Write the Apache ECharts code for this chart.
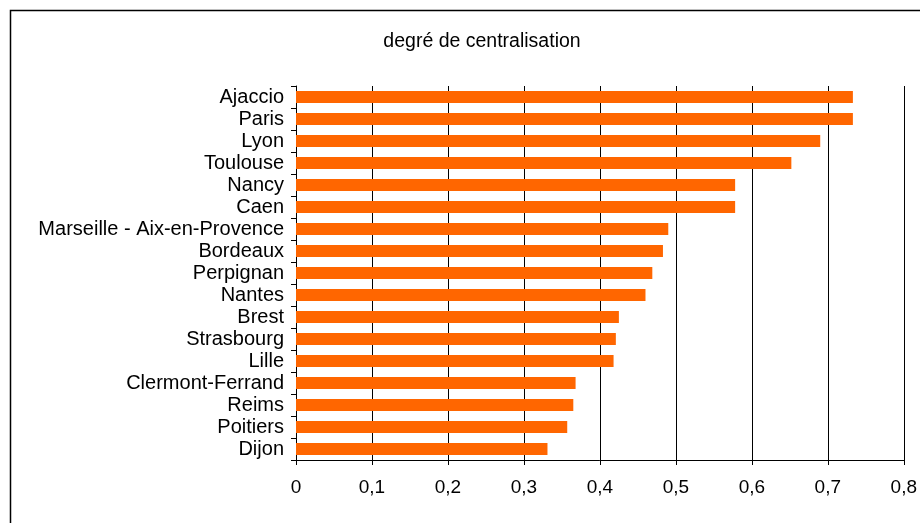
<!DOCTYPE html>
<html><head><meta charset="utf-8">
<script src="https://cdn.jsdelivr.net/npm/echarts@6/dist/echarts.min.js"></script>
<style>html,body{margin:0;padding:0;background:#fff}#c{width:920px;height:523px}</style>
</head><body><div id="c"></div>
<script>
const categories = ["Ajaccio","Paris","Lyon","Toulouse","Nancy","Caen","Marseille - Aix-en-Provence","Bordeaux","Perpignan","Nantes","Brest","Strasbourg","Lille","Clermont-Ferrand","Reims","Poitiers","Dijon"];
const values = [0.733,0.733,0.690,0.652,0.578,0.578,0.490,0.483,0.469,0.460,0.425,0.421,0.418,0.368,0.365,0.357,0.331];
const titleText = "degré de centralisation";

const chart = echarts.init(document.getElementById('c'), null, {renderer:'canvas'});
const font = 'Liberation Sans, Arial, sans-serif';
chart.setOption({
  animation:false,
  backgroundColor:'#fff',
  graphic:[{type:'rect', left:8, top:8, shape:{x:0,y:0,width:1000,height:1000}, style:{fill:'none', stroke:'#000', lineWidth:1.5}, z:-1}],
  title:{text:titleText, left:477, top:27, textAlign:'center', textStyle:{fontFamily:font, fontSize:19.5, fontWeight:'normal', color:'#000'}},
  grid:{left:296, right:14, top:86, bottom:63, containLabel:false},
  xAxis:{type:'value', min:0, max:0.8, interval:0.1,
    axisLine:{show:true, lineStyle:{color:'#000', width:1}},
    axisTick:{show:true, length:5, lineStyle:{color:'#000'}},
    axisLabel:{margin:18, fontFamily:font, fontSize:19, color:'#000', formatter:v=>String(Math.round(v*10)/10).replace('.',',')},
    splitLine:{show:true, lineStyle:{color:'#000', width:1}}},
  yAxis:{type:'category', data:categories, inverse:true,
    axisLine:{show:true, lineStyle:{color:'#000', width:1}},
    axisTick:{show:true, length:5, interval:0, lineStyle:{color:'#000'}},
    axisLabel:{margin:12, interval:0, fontFamily:font, fontSize:20, color:'#000'},
    splitLine:{show:false}},
  series:[{type:'bar', data:values, barWidth:12, itemStyle:{color:'#ff6600'}}]
});
</script></body></html>
